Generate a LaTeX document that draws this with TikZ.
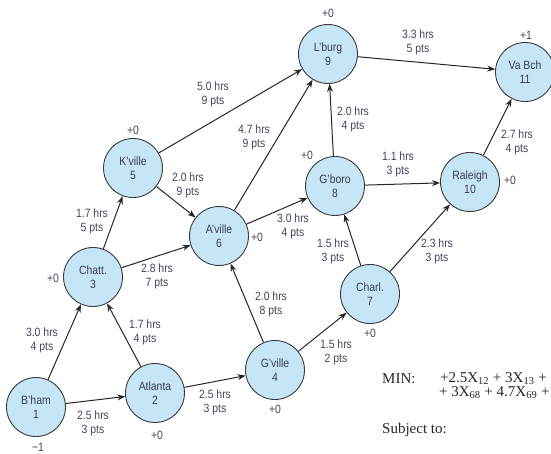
\documentclass[tikz,border=0pt]{standalone}
\usepackage{fontspec}
\setmainfont{Liberation Sans}[FakeStretch=0.87]
\newfontfamily\formulafont{Liberation Serif}
\usetikzlibrary{arrows.meta}

\definecolor{nodefill}{HTML}{C6E6F8}
\definecolor{nodeedge}{HTML}{3A3A3A}
\definecolor{labeltext}{HTML}{4D4160}
\definecolor{citytext}{HTML}{3C3C50}

\begin{document}
\begin{tikzpicture}[x=1pt,y=-1pt,
  city/.style={circle, draw=nodeedge, line width=0.9pt, fill=nodefill,
    minimum size=59pt, inner sep=0pt, align=center,
    font=\fontsize{12}{14}\selectfont, text=citytext},
  lab/.style={align=center, font=\fontsize{12}{14}\selectfont,
    text=labeltext, inner sep=0pt},
  route/.style={-{Stealth[length=8pt,width=6pt]}, line width=1pt, draw=black!85},
  formula/.style={anchor=west, inner sep=0pt, font=\formulafont\fontsize{15}{15}\selectfont, text=black!85},
]
\useasboundingbox (0,0) rectangle (551,454);
\clip (0,0) rectangle (551,454);

% cities
\node[city] (n1)  at (36,407)  {B’ham\\1};
\node[city] (n2)  at (155,393) {Atlanta\\2};
\node[city] (n3)  at (93,277)  {Chatt.\\3};
\node[city] (n4)  at (275,370) {G’ville\\4};
\node[city] (n5)  at (133,168) {K’ville\\5};
\node[city] (n6)  at (219,236) {A’ville\\6};
\node[city] (n7)  at (370,294) {Charl.\\7};
\node[city] (n8)  at (335,186) {G’boro\\8};
\node[city] (n9)  at (328,54)  {L’burg\\9};
\node[city] (n10) at (470,182) {Raleigh\\10};
\node[city] (n11) at (525,72)  {Va Bch\\11};

% routes
\draw[route] (n1) -- (n2);
\draw[route] (n1) -- (n3);
\draw[route] (n2) -- (n3);
\draw[route] (n2) -- (n4);
\draw[route] (n3) -- (n5);
\draw[route] (n3) -- (n6);
\draw[route] (n4) -- (n6);
\draw[route] (n4) -- (n7);
\draw[route] (n5) -- (n6);
\draw[route] (n5) -- (n9);
\draw[route] (n6) -- (n8);
\draw[route] (n6) -- (n9);
\draw[route] (n7) -- (n8);
\draw[route] (n7) -- (n10);
\draw[route] (n8) -- (n9);
\draw[route] (n8) -- (n10);
\draw[route] (n9) -- (n11);
\draw[route] (n10) -- (n11);

% route labels
\node[lab] (l12)   at (93,423)  {2.5 hrs\\3 pts};
\node[lab] (l13)   at (42,340)  {3.0 hrs\\4 pts};
\node[lab] (l23)   at (145,332) {1.7 hrs\\4 pts};
\node[lab] (l24)   at (215,402) {2.5 hrs\\3 pts};
\node[lab] (l35)   at (92,221)  {1.7 hrs\\5 pts};
\node[lab] (l36)   at (157,276) {2.8 hrs\\7 pts};
\node[lab] (l46)   at (271,304) {2.0 hrs\\8 pts};
\node[lab] (l47)   at (336,352) {1.5 hrs\\2 pts};
\node[lab] (l56)   at (188,185) {2.0 hrs\\9 pts};
\node[lab] (l59)   at (213,94)  {5.0 hrs\\9 pts};
\node[lab] (l68)   at (293,226) {3.0 hrs\\4 pts};
\node[lab] (l69)   at (254,137) {4.7 hrs\\9 pts};
\node[lab] (l78)   at (333,251) {1.5 hrs\\3 pts};
\node[lab] (l710)  at (437,251) {2.3 hrs\\3 pts};
\node[lab] (l89)   at (353,119) {2.0 hrs\\4 pts};
\node[lab] (l810)  at (398,164) {1.1 hrs\\3 pts};
\node[lab] (l911)  at (418,42)  {3.3 hrs\\5 pts};
\node[lab] (l1011) at (517,142) {2.7 hrs\\4 pts};

% supply / demand values
\node[lab] (s1)  at (38,447)  {−1};
\node[lab] (s2)  at (157,435) {+0};
\node[lab] (s3)  at (53,278)  {+0};
\node[lab] (s4)  at (275,409) {+0};
\node[lab] (s5)  at (133,130) {+0};
\node[lab] (s6)  at (257,237) {+0};
\node[lab] (s7)  at (370,333) {+0};
\node[lab] (s8)  at (307,155) {+0};
\node[lab] (s9)  at (328,13)  {+0};
\node[lab] (s10) at (510,180) {+0};
\node[lab] (s11) at (526,35)  {+1};

% objective
\node[formula] (min)  at (382,379) {MIN:};
\node[formula] (obj1) at (440,379) {+2.5X\textsubscript{12} + 3X\textsubscript{13} + 1};
\node[formula] (obj2) at (439,393) {+ 3X\textsubscript{68} + 4.7X\textsubscript{69} +};
\node[formula] (subj) at (382,430) {Subject to:};
\end{tikzpicture}
\end{document}
